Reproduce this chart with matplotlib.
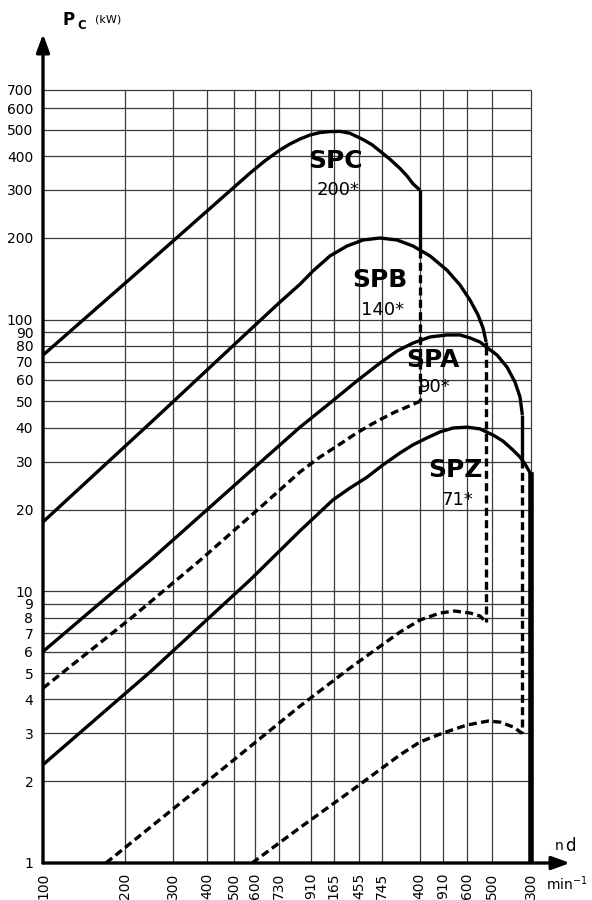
import matplotlib
matplotlib.use('Agg')
import matplotlib.pyplot as plt
from matplotlib.ticker import NullLocator

# axis ticks (labels are printed exactly as in the source chart)
x_ticks = [100, 200, 300, 400, 500, 600, 730, 960, 1160, 1440, 1750, 2400, 2910, 3570, 4400, 6150]
x_labels = ['100', '200', '300', '400', '500', '600', '730', '910', '165', '455', '745',
            '400', '910', '600', '500', '300']
y_ticks = [1, 2, 3, 4, 5, 6, 7, 8, 9, 10, 20, 30, 40, 50, 60, 70, 80, 90,
           100, 200, 300, 400, 500, 600, 700]

# upper limits (solid) and lower limits (dashed) per belt profile
spc_n = [100, 247, 573, 650, 738, 803, 874, 951, 1034, 1125, 1224, 1332, 1487, 1604,
         1716, 1867, 2031, 2154, 2266, 2400]
spc_p = [74, 164, 346, 384, 421, 443, 462, 478, 488, 492, 493, 485, 460, 440,
         417, 389, 360, 338, 316, 300]
spc_low_n = [100, 208, 376, 623, 874, 1034, 1224, 1390, 1577, 1760, 1947, 2154, 2400]
spc_low_p = [4.4, 7.9, 13.0, 20.3, 27.5, 31.2, 34.8, 37.9, 40.9, 43.4, 45.7, 47.7, 50]

spb_n = [100, 247, 573, 738, 874, 975, 1125, 1299, 1487, 1716, 1980, 2266, 2616, 3019,
         3370, 3665, 3922, 4091, 4200]
spb_p = [18, 41.6, 91.6, 116, 135, 151, 171.5, 186.6, 196.3, 199.7, 196.3, 186.6, 171.5, 152,
         134, 118, 104, 93.1, 82.7]
spb_low_n = [170, 376, 874, 1332, 2031, 2404, 2846, 3229, 3665, 3988, 4200]
spb_low_p = [1, 1.9, 3.78, 5.22, 7.08, 7.84, 8.32, 8.46, 8.32, 8.11, 7.71]

spa_n = [100, 247, 573, 874, 1125, 1425, 1716, 1980, 2266, 2616, 3019, 3370, 3665, 3988,
         4200, 4603, 5007, 5357, 5588, 5700]
spa_p = [6, 13.0, 27.6, 40.2, 49.3, 59.9, 69.2, 76.6, 82, 86.3, 87.8, 87.8, 85.6, 82.7,
         79.3, 74.1, 66.9, 58.9, 51.9, 44.6]
spa_low_n = [583, 874, 1332, 2031, 2404, 2919, 3574, 4266, 4721, 5266, 5700]
spa_low_p = [1, 1.35, 1.83, 2.50, 2.79, 3.01, 3.22, 3.33, 3.30, 3.17, 3.0]

spz_n = [100, 247, 573, 874, 1154, 1332, 1538, 1760, 2031, 2266, 2550, 2846, 3175, 3574,
         3988, 4451, 4842, 5266, 5588, 5830, 6150]
spz_p = [2.3, 5.05, 11.0, 16.7, 21.7, 24.0, 26.3, 29.2, 32.3, 34.6, 36.7, 38.6, 39.9, 40.2,
         39.6, 37.6, 35.7, 33.1, 31.2, 29.4, 26.8]

# vertical closing lines: speed, solid from top to split, dashed from split to bottom
cut_n = [2400, 4200, 5700]
cut_top = [300, 82.7, 44.6]
cut_split = [181, 79.3, 30.4]
cut_bottom = [50, 7.71, 3.0]

names = ['SPC', 'SPB', 'SPA', 'SPZ']
dia = ['200*', '140*', '90*', '71*']

W, H = 592, 900
fig = plt.figure(figsize=(W / 100, H / 100), dpi=100)
x0, x1, y0, y1 = 43, 570, 863, 34
ax = fig.add_axes([x0 / W, (H - y0) / H, (x1 - x0) / W, (y0 - y1) / H])
ax.set_xscale('log')
ax.set_yscale('log')
ax.set_xlim(100, 8519)
ax.set_ylim(1, 1125)
for s in ax.spines.values():
    s.set_visible(False)

grid_kw = dict(colors='#3a3a3a', linewidth=0.9, zorder=1)
ax.vlines(x_ticks[1:], 1, 700, **grid_kw)
ax.hlines(y_ticks[1:], 100, 6150, **grid_kw)

ax.set_xticks(x_ticks)
ax.set_xticklabels(x_labels, rotation=90, fontsize=10)
ax.set_yticks(y_ticks)
ax.set_yticklabels([str(v) for v in y_ticks], fontsize=10)
ax.xaxis.set_minor_locator(NullLocator())
ax.yaxis.set_minor_locator(NullLocator())
ax.tick_params(axis='x', length=0, pad=7)
ax.tick_params(axis='y', length=0, pad=7)

lw = 2.4
dash = (0, (2.4, 1.3))
solid_kw = dict(color='black', linewidth=lw, solid_capstyle='butt',
                solid_joinstyle='round', zorder=3)
dash_kw = dict(color='black', linewidth=lw, linestyle=dash, zorder=3)

ax.plot(spc_n, spc_p, **solid_kw)
ax.plot(spb_n, spb_p, **solid_kw)
ax.plot(spa_n, spa_p, **solid_kw)
ax.plot(spz_n, spz_p, **solid_kw)
ax.plot(spc_low_n, spc_low_p, **dash_kw)
ax.plot(spb_low_n, spb_low_p, **dash_kw)
ax.plot(spa_low_n, spa_low_p, **dash_kw)

for n, top, split, bot in zip(cut_n, cut_top, cut_split, cut_bottom):
    ax.plot([n, n], [top, split], **solid_kw)
    ax.plot([n, n], [split, bot], **dash_kw)
# SPZ closes with a heavy line down to the axis
ax.plot([spz_n[-1], spz_n[-1]], [spz_p[-1], 1], color='black', linewidth=4, zorder=3)

# profile names and reference diameters
name_pos = [(1184, 361), (1716, 132), (2683, 67), (3229, 26.3)]
dia_pos = [(1204, 287), (1760, 104), (2729, 54), (3284, 20.8)]
for nm, (xn, yn), d, (xd, yd) in zip(names, name_pos, dia, dia_pos):
    ax.text(xn, yn, nm, fontsize=18, fontweight='bold', ha='center', va='baseline', zorder=4)
    ax.text(xd, yd, d, fontsize=13, ha='center', va='baseline', zorder=4)

# axes with arrows
arrow = dict(arrowstyle='-|>,head_length=0.6,head_width=0.22', mutation_scale=18,
             lw=2.4, color='black', shrinkA=0, shrinkB=0)
ax.annotate('', xy=(0, 1), xytext=(0, 0), xycoords='axes fraction', arrowprops=arrow, zorder=5)
ax.annotate('', xy=(1, 0), xytext=(0, 0), xycoords='axes fraction', arrowprops=arrow, zorder=5)

fig.text(63 / W, 1 - 25 / H, 'P', fontsize=12, fontweight='bold', va='baseline')
fig.text(77 / W, 1 - 29 / H, 'C', fontsize=8.5, fontweight='bold', va='baseline')
fig.text(95 / W, 1 - 22 / H, '(kW)', fontsize=8, va='baseline')
fig.text(555 / W, 1 - 850 / H, 'n', fontsize=10, va='baseline')
fig.text(565 / W, 1 - 851 / H, 'd', fontsize=12, va='baseline')
fig.text(588 / W, 1 - 890 / H, 'min$^{-1}$', fontsize=10, va='baseline', ha='right')

fig.savefig('out.png', dpi=100, facecolor='white')
